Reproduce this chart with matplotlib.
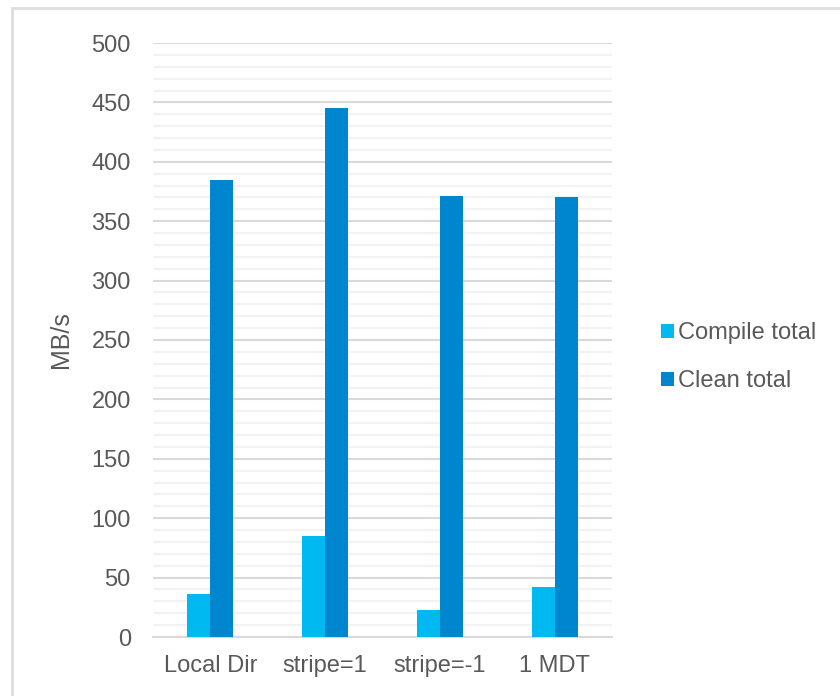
import matplotlib
matplotlib.use("Agg")
import matplotlib.pyplot as plt
import numpy as np
from matplotlib.patches import Rectangle
from matplotlib.ticker import MultipleLocator

# Throughput per configuration (MB/s)
categories = ["Local Dir", "stripe=1", "stripe=-1", "1 MDT"]
compile_total = [36, 85, 23, 42]
clean_total = [385, 445, 371, 370]

COMPILE_COLOR = "#00B9F1"
CLEAN_COLOR = "#0086CE"
TEXT_COLOR = "#595959"
MAJOR_GRID = "#D9D9D9"
MINOR_GRID = "#F2F2F2"

plt.rcParams["font.family"] = ["Liberation Sans", "DejaVu Sans"]

fig = plt.figure(figsize=(8.4, 6.96), dpi=100)
ax = fig.add_axes([153 / 840, 1 - 637 / 696, (612 - 153) / 840, (637 - 43) / 696])

x = np.arange(len(categories))
width = 0.2
ax.bar(x - width / 2, compile_total, width, color=COMPILE_COLOR,
       label="Compile total", zorder=3)
ax.bar(x + width / 2, clean_total, width, color=CLEAN_COLOR,
       label="Clean total", zorder=3)

ax.set_xlim(-0.5, len(categories) - 0.5)
ax.set_ylim(0, 500)
ax.yaxis.set_major_locator(MultipleLocator(50))
ax.yaxis.set_minor_locator(MultipleLocator(10))
ax.grid(True, which="minor", axis="y", color=MINOR_GRID, linewidth=1.5, zorder=0)
ax.grid(True, which="major", axis="y", color=MAJOR_GRID, linewidth=1.5, zorder=1)

ax.set_xticks(x)
ax.set_xticklabels(categories)
ax.tick_params(axis="both", which="both", length=0, labelsize=17,
               labelcolor=TEXT_COLOR)
ax.tick_params(axis="y", pad=16)
ax.tick_params(axis="x", pad=13)
ax.set_ylabel("MB/s", fontsize=18, color=TEXT_COLOR, labelpad=13)

for name, spine in ax.spines.items():
    spine.set_visible(name == "bottom")
ax.spines["bottom"].set_color(MAJOR_GRID)
ax.spines["bottom"].set_linewidth(1.5)

leg = fig.legend(loc="center left", bbox_to_anchor=(640 / 840, 1 - 357 / 696),
                 frameon=False, fontsize=17, labelcolor=TEXT_COLOR,
                 handlelength=0.55, handleheight=0.55, handletextpad=0.15,
                 labelspacing=1.1)

# chart area outline
fig.patches.append(Rectangle((12 / 840, -0.1), 1.0, 1 - 8 / 696 + 0.1,
                             transform=fig.transFigure, fill=False,
                             edgecolor="#DDDDDD", linewidth=2))

fig.savefig("out.png", dpi=100, facecolor="white")
